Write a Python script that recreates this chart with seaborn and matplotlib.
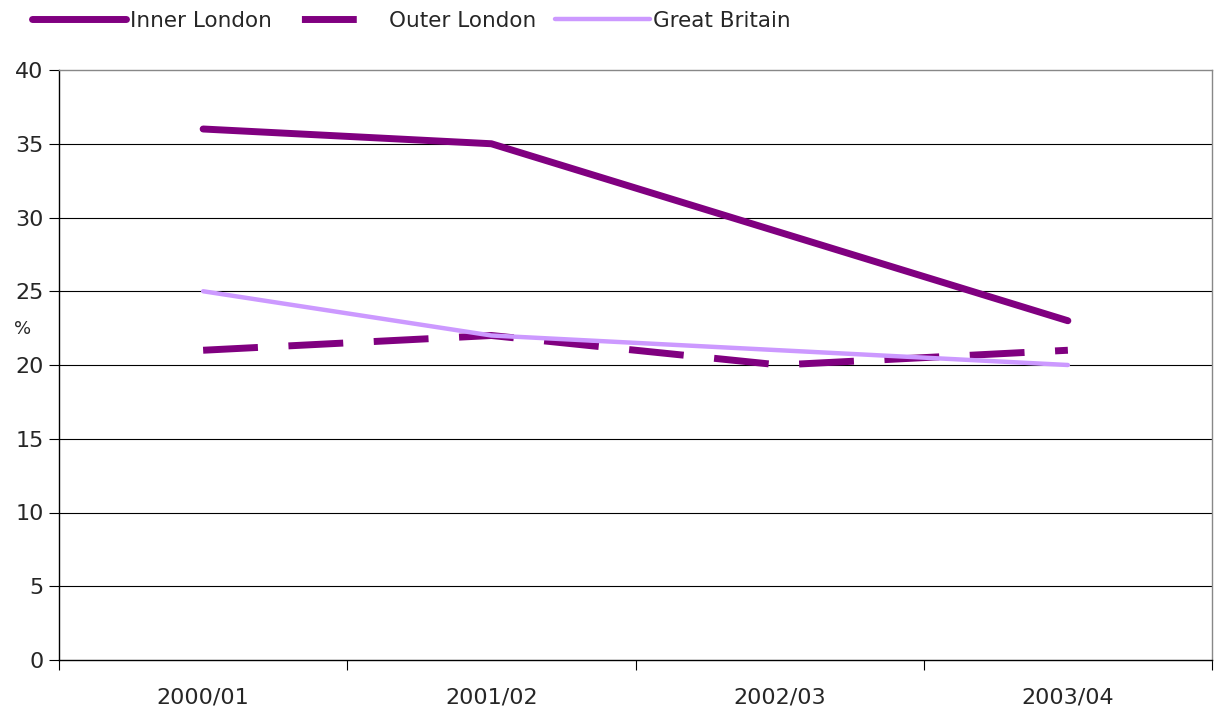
import pandas as pd
import seaborn as sns
import matplotlib.pyplot as plt

# data
years = ["2000/01", "2001/02", "2002/03", "2003/04"]
inner_london = [36, 35, 29, 23]
outer_london = [21, 22, 20, 21]
great_britain = [25, 22, 21, 20]

df = pd.DataFrame({"year": years, "Inner London": inner_london,
                   "Outer London": outer_london, "Great Britain": great_britain})

sns.set_style("white")
plt.rcParams['font.family'] = ['DejaVu Sans']

fig = plt.figure(figsize=(12.18, 7.14), dpi=100)
ax = fig.add_axes([59/1218, 1 - 660/714, (1212-59)/1218, (660-70)/714])

purple = "#800080"
lilac = "#CC99FF"

sns.lineplot(data=df, x="year", y="Inner London", ax=ax, color=purple, lw=5,
             label="Inner London", solid_capstyle="round")
sns.lineplot(data=df, x="year", y="Outer London", ax=ax, color=purple, lw=5,
             label="Outer London", dashes=False)
ax.lines[-1].set_dashes((7.9, 4.4))
sns.lineplot(data=df, x="year", y="Great Britain", ax=ax, color=lilac, lw=3.2,
             label="Great Britain", solid_capstyle="round")

ax.set_xlim(-0.5, 3.5)
ax.set_ylim(0, 40)
ax.set_yticks(range(0, 41, 5))
for y in range(5, 40, 5):
    ax.axhline(y, color="black", lw=0.8, zorder=0)

ax.set_xticks([0, 1, 2, 3])
ax.set_xticklabels(years, fontsize=16)
ax.set_xticks([-0.5, 0.5, 1.5, 2.5, 3.5], minor=True)
ax.tick_params(axis="x", which="major", bottom=False, length=0, pad=20)
ax.tick_params(axis="x", which="minor", bottom=True, length=7, width=0.8,
               color="black", direction="out")
ax.tick_params(axis="y", left=True, length=7, width=0.8, color="black",
               direction="out", labelsize=16, pad=4)

ax.spines["left"].set_color("black")
ax.spines["bottom"].set_color("black")
ax.spines["top"].set_color("#888888")
ax.spines["right"].set_color("#888888")
for s in ax.spines.values():
    s.set_linewidth(1)

ax.set_xlabel("")
ax.set_ylabel("%", rotation=0, fontsize=13, labelpad=12)
ax.yaxis.set_label_coords(-0.032, 0.545)

ax.get_legend().remove()
handles, labels = ax.get_legend_handles_labels()
leg = fig.legend(handles, labels, loc="upper left", bbox_to_anchor=(0.01, 1.012), ncol=3,
                 frameon=False, fontsize=15.5, handlelength=4.4, handletextpad=0.15,
                 columnspacing=0.9)
# single dash in the Outer London key, like the original
leg.get_lines()[1].set_linestyle((37, (7.9, 30.6)))

fig.savefig("out.png", dpi=100, facecolor="white")
